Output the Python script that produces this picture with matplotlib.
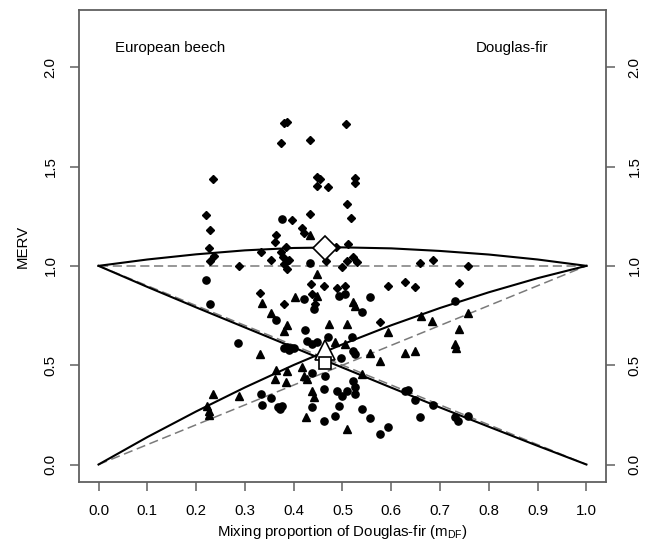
import numpy as np
import matplotlib
matplotlib.use("Agg")
import matplotlib.pyplot as plt

plt.rcParams['font.family'] = ['Liberation Sans', 'DejaVu Sans']
plt.rcParams['mathtext.default'] = 'regular'

# Observed MERV of the single plots (read off the figure)
# diamonds = whole stand, circles = European beech, triangles = Douglas-fir
total_x = [0.380, 0.386, 0.375, 0.434, 0.235, 0.447, 0.454, 0.448, 0.471, 0.220,
           0.397, 0.434, 0.228, 0.418, 0.421, 0.363, 0.362, 0.226, 0.237, 0.228,
           0.334, 0.384, 0.375, 0.379, 0.354, 0.287, 0.380, 0.387, 0.390, 0.466,
           0.486, 0.507, 0.525, 0.525, 0.510, 0.517, 0.511, 0.522, 0.510, 0.529,
           0.500, 0.659, 0.685, 0.757, 0.331, 0.380, 0.436, 0.462, 0.438, 0.489,
           0.506, 0.594, 0.628, 0.576, 0.648, 0.738, 0.444]
total_y = [1.721, 1.724, 1.619, 1.632, 1.439, 1.447, 1.436, 1.404, 1.399, 1.256,
           1.231, 1.261, 1.182, 1.192, 1.164, 1.157, 1.120, 1.090, 1.048, 1.024,
           1.070, 1.095, 1.070, 1.044, 1.028, 0.999, 1.011, 0.986, 1.028, 1.024,
           1.095, 1.716, 1.444, 1.417, 1.310, 1.243, 1.112, 1.044, 1.023, 1.018,
           0.994, 1.013, 1.029, 0.999, 0.863, 0.808, 0.908, 0.900, 0.858, 0.887,
           0.900, 0.900, 0.917, 0.715, 0.892, 0.912, 0.808]

beech_x = [0.376, 0.434, 0.221, 0.228, 0.363, 0.286, 0.380, 0.390, 0.387, 0.395,
           0.332, 0.354, 0.336, 0.368, 0.377, 0.372, 0.421, 0.506, 0.492, 0.423,
           0.470, 0.427, 0.438, 0.448, 0.400, 0.496, 0.438, 0.465, 0.462, 0.489,
           0.499, 0.510, 0.438, 0.492, 0.485, 0.462, 0.556, 0.539, 0.519, 0.522,
           0.525, 0.522, 0.526, 0.526, 0.628, 0.539, 0.556, 0.594, 0.577, 0.730,
           0.634, 0.649, 0.686, 0.658, 0.730, 0.737, 0.757, 0.441]
beech_y = [1.234, 1.014, 0.930, 0.808, 0.727, 0.610, 0.584, 0.578, 0.594, 0.585,
           0.354, 0.334, 0.299, 0.287, 0.296, 0.280, 0.833, 0.858, 0.850, 0.679,
           0.640, 0.623, 0.606, 0.615, 0.589, 0.534, 0.463, 0.447, 0.379, 0.371,
           0.346, 0.370, 0.287, 0.296, 0.245, 0.217, 0.841, 0.766, 0.640, 0.573,
           0.556, 0.420, 0.388, 0.354, 0.371, 0.279, 0.233, 0.191, 0.153, 0.825,
           0.373, 0.324, 0.299, 0.237, 0.237, 0.220, 0.245, 0.782]

douglas_x = [0.434, 0.447, 0.336, 0.354, 0.386, 0.380, 0.331, 0.363, 0.387, 0.362,
             0.384, 0.235, 0.288, 0.222, 0.226, 0.226, 0.472, 0.509, 0.485, 0.506,
             0.417, 0.421, 0.427, 0.438, 0.441, 0.425, 0.509, 0.522, 0.526, 0.594,
             0.556, 0.628, 0.577, 0.539, 0.660, 0.684, 0.757, 0.738, 0.730, 0.733,
             0.649, 0.402, 0.448]
douglas_y = [1.154, 0.961, 0.811, 0.762, 0.704, 0.674, 0.556, 0.475, 0.469, 0.430,
             0.417, 0.354, 0.343, 0.296, 0.248, 0.270, 0.707, 0.707, 0.615, 0.606,
             0.489, 0.447, 0.430, 0.371, 0.338, 0.237, 0.178, 0.816, 0.800, 0.665,
             0.561, 0.561, 0.522, 0.455, 0.746, 0.720, 0.762, 0.682, 0.606, 0.589,
             0.573, 0.845, 0.846]

# mean of all plots (open symbols)
mean_x = 0.465
mean_total = 1.09
mean_douglas = 0.575
mean_beech = 0.513

# fitted curves read at steps of 0.1
curve_x = [0.0, 0.1, 0.2, 0.3, 0.4, 0.5, 0.6, 0.7, 0.8, 0.9, 1.0]
curve_douglas = [0.0, 0.138, 0.267, 0.388, 0.501, 0.605, 0.701, 0.788, 0.867, 0.938, 1.0]
curve_beech = [1.0, 0.894, 0.791, 0.690, 0.589, 0.488, 0.387, 0.287, 0.190, 0.094, 0.0]
curve_total = [1.0, 1.032, 1.058, 1.078, 1.090, 1.093, 1.088, 1.075, 1.057, 1.032, 1.0]

# reference lines (no mixing effect)
ref_x = [0.0, 1.0]
ref_total = [1.0, 1.0]
ref_douglas = [0.0, 1.0]
ref_beech = [1.0, 0.0]

fig = plt.figure(figsize=(6.46, 5.45), dpi=100)
ax = fig.add_axes([0.1223, 0.1156, 0.8157, 0.8661])

grey = '#7a7a7a'
ax.plot(ref_x, ref_total, color=grey, lw=1.1, ls=(0, (6, 3)))
ax.plot(ref_x, ref_douglas, color=grey, lw=1.1, ls=(0, (6, 3)))
ax.plot(ref_x, ref_beech, color=grey, lw=1.1, ls=(0, (6, 3)))

ax.plot(curve_x, curve_total, color='black', lw=1.5)
ax.plot(curve_x, curve_douglas, color='black', lw=1.5)
ax.plot(curve_x, curve_beech, color='black', lw=1.5)

ax.plot(total_x, total_y, 'D', color='black', ms=4.2, ls='none')
ax.plot(beech_x, beech_y, 'o', color='black', ms=5.2, ls='none')
ax.plot(douglas_x, douglas_y, '^', color='black', ms=6.2, ls='none')

# open symbols for the means
ax.plot(mean_x, mean_total, 'D', mfc='white', mec='black', mew=1.2, ms=12)
ax.plot(mean_x, mean_douglas, '^', mfc='white', mec='black', mew=1.2, ms=15)
ax.plot(mean_x, mean_beech, 's', mfc='white', mec='black', mew=1.2, ms=9)

ax.text(0.146, 2.096, 'European beech', fontsize=10.8, ha='center', va='center')
ax.text(0.848, 2.096, 'Douglas-fir', fontsize=10.8, ha='center', va='center')

ax.set_xlim(-0.04, 1.04)
ax.set_ylim(-0.088, 2.288)
ax.set_xticks(np.arange(0, 1.01, 0.1))
ax.set_xticklabels(['%.1f' % v for v in np.arange(0, 1.01, 0.1)])
ax.set_yticks([0.0, 0.5, 1.0, 1.5, 2.0])
ax.set_yticklabels(['0.0', '0.5', '1.0', '1.5', '2.0'])

frame = '#606060'
for side in ax.spines.values():
    side.set_color(frame)
    side.set_linewidth(1.3)
ax.tick_params(axis='both', direction='out', length=6.5, width=1.1, color=frame,
               labelsize=10.8, pad=9)
ax.tick_params(axis='y', right=True, labelright=True, labelrotation=90)
for lab in ax.get_yticklabels():
    lab.set_va('center')

ax.set_xlabel('Mixing proportion of Douglas-fir (m$_{DF}$)', fontsize=10.8, labelpad=4)
ax.set_ylabel('MERV', fontsize=10.8, labelpad=10)

fig.savefig('out.png', dpi=100)
